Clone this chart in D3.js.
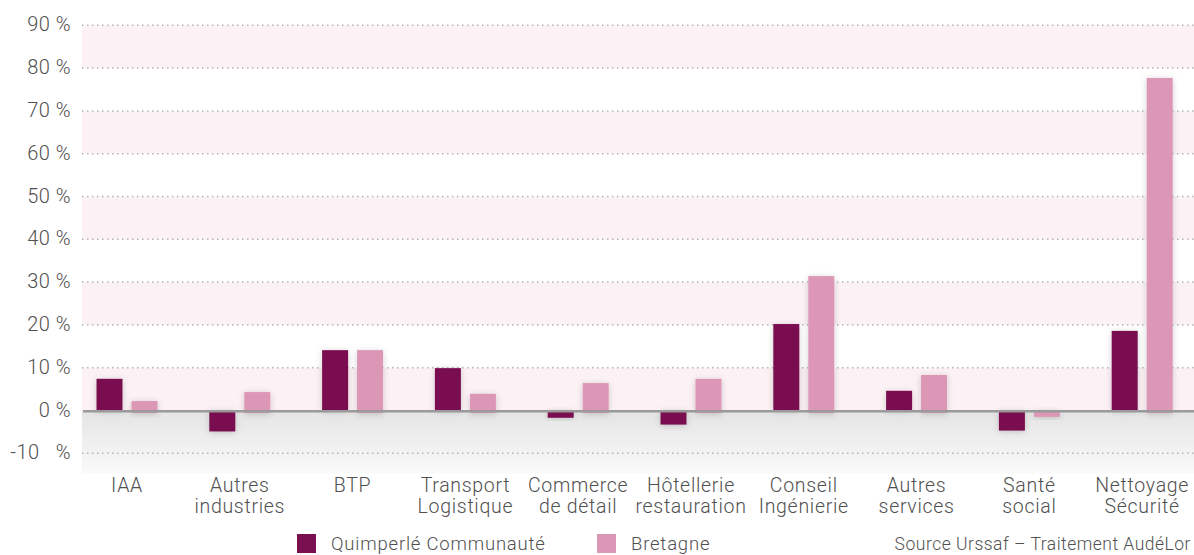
<!DOCTYPE html>
<html>
<head>
<meta charset="utf-8">
<script src="https://cdn.jsdelivr.net/npm/d3@7"></script>
<style>
  html, body { margin: 0; padding: 0; background: #fff; }
  svg { display: block; font-family: Roboto, "Noto Sans", sans-serif; font-weight: 300; }
</style>
</head>
<body>
<svg id="chart" width="1194" height="555"></svg>
<script>
// ---- Data ----
const categories = ["IAA", "Autres\nindustries", "BTP", "Transport\nLogistique", "Commerce\nde détail",
  "Hôtellerie\nrestauration", "Conseil\nIngénierie", "Autres\nservices", "Santé\nsocial", "Nettoyage\nSécurité"];
const seriesNames = ["Quimperlé Communauté", "Bretagne"];
const quimperle = [7.4, -4.9, 14.1, 9.9, -1.7, -3.3, 20.2, 4.6, -4.7, 18.6];
const bretagne = [2.2, 4.3, 14.1, 3.9, 6.4, 7.4, 31.4, 8.3, -0.9, 77.7];
const yTicks = [90, 80, 70, 60, 50, 40, 30, 20, 10, 0, -10];
const yTickLabels = ["90 %", "80 %", "70 %", "60 %", "50 %", "40 %", "30 %", "20 %", "10 %", "0 %", "-10\u00a0\u00a0\u00a0%"];
const sourceText = "Source Urssaf – Traitement AudéLor";

// ---- Layout ----
const colors = ["#7a1050", "#dc96b6"];
const textColor = "#505050";
const plotLeft = 82, plotRight = 1194;
const svg = d3.select("#chart");

const y = d3.scaleLinear().domain([-10, 90]).range([453.3, 25.3]);
const x = d3.scaleBand().domain(categories).range([70.6, 1198.6]).paddingInner(0).paddingOuter(0);
const xs = d3.scaleBand().domain(seriesNames).range([-30.5, 30.5]).paddingInner(0.2571).paddingOuter(0);

const defs = svg.append("defs");
const grad = defs.append("linearGradient").attr("id", "neg").attr("x1", 0).attr("y1", 0).attr("x2", 0).attr("y2", 1);
grad.append("stop").attr("offset", "0%").attr("stop-color", "#e4e4e4");
grad.append("stop").attr("offset", "100%").attr("stop-color", "#fafafa");
const f = defs.append("filter").attr("id", "shadow").attr("x", "-40%").attr("y", "-40%").attr("width", "180%").attr("height", "180%");
f.append("feDropShadow").attr("dx", 0).attr("dy", 1).attr("stdDeviation", 3)
  .attr("flood-color", "#000").attr("flood-opacity", 0.18);

// pink bands
const bandStarts = [90, 70, 50, 30, 10];
svg.append("g").selectAll("rect").data(bandStarts).join("rect")
  .attr("x", plotLeft).attr("width", plotRight - plotLeft)
  .attr("y", d => y(d)).attr("height", d => y(d - 10) - y(d))
  .attr("fill", "#fcf1f5");

// negative area gradient
svg.append("rect").attr("x", plotLeft).attr("width", plotRight - plotLeft)
  .attr("y", y(0)).attr("height", y(-14.7) - y(0)).attr("fill", "url(#neg)");

// gridlines
svg.append("g").selectAll("line").data(yTicks.filter(d => d !== 0)).join("line")
  .attr("x1", plotLeft).attr("x2", plotRight)
  .attr("y1", d => y(d)).attr("y2", d => y(d))
  .attr("stroke", "#b5b5b5").attr("stroke-width", 1.5).attr("stroke-dasharray", "1.5,3.5");

// y tick labels
svg.append("g").selectAll("text").data(yTicks).join("text")
  .attr("x", 71).attr("y", d => y(d)).attr("dy", "0.3em")
  .attr("text-anchor", "end").attr("font-size", 20).attr("letter-spacing", 0.5).attr("fill", textColor)
  .text((d, i) => yTickLabels[i]);

// bars
const series = [quimperle, bretagne];
const gBars = svg.append("g");
series.forEach((vals, si) => {
  const ext = si === 1 ? 2.5 : 0;
  gBars.append("g").selectAll("rect").data(vals).join("rect")
    .attr("x", (d, i) => x(categories[i]) + x.bandwidth() / 2 + xs(seriesNames[si]))
    .attr("width", xs.bandwidth())
    .attr("y", d => Math.min(y(d), y(0)))
    .attr("height", d => Math.abs(y(d) - y(0)) + ext)
    .attr("fill", colors[si])
    .attr("filter", "url(#shadow)");
});

// zero line
svg.append("line").attr("x1", plotLeft + 1).attr("x2", plotRight)
  .attr("y1", y(0) + 0.8).attr("y2", y(0) + 0.8)
  .attr("stroke", "#9a9a9a").attr("stroke-width", 2.4);

// category labels
const gx = svg.append("g");
categories.forEach(c => {
  const cx = x(c) + x.bandwidth() / 2;
  const t = gx.append("text").attr("text-anchor", "middle").attr("font-size", 19.5)
    .attr("letter-spacing", 0.7).attr("fill", textColor)
    .attr("x", cx).attr("y", 492);
  c.split("\n").forEach((line, li) => {
    t.append("tspan").attr("x", cx).attr("dy", li === 0 ? 0 : 21).text(line);
  });
});

// legend
const legendX = [297, 597];
const lg = svg.append("g");
seriesNames.forEach((n, i) => {
  lg.append("rect").attr("x", legendX[i]).attr("y", 534).attr("width", 19).attr("height", 19).attr("fill", colors[i]);
  lg.append("text").attr("x", legendX[i] + 34).attr("y", 550).attr("font-size", 18.5)
    .attr("letter-spacing", 0.8).attr("fill", textColor).text(n);
});
svg.append("text").attr("x", 1191).attr("y", 550).attr("text-anchor", "end")
  .attr("font-size", 17.5).attr("letter-spacing", 0.5).attr("fill", textColor).text(sourceText);
</script>
</body>
</html>
